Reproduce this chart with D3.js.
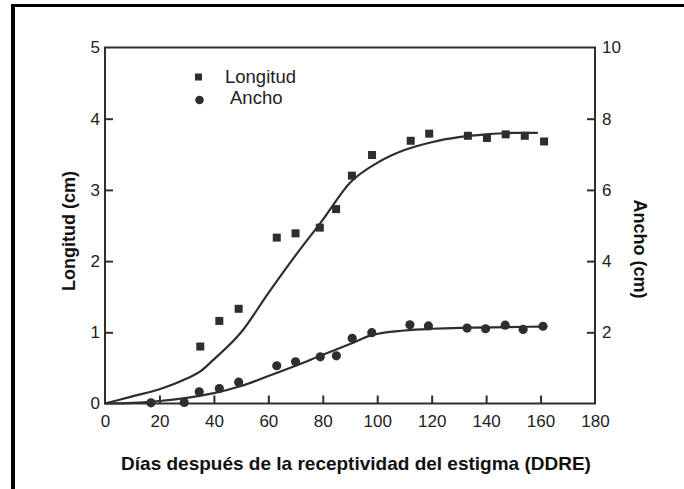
<!DOCTYPE html>
<html><head><meta charset="utf-8">
<script src="https://cdn.jsdelivr.net/npm/d3@7"></script>
<style>body{margin:0;background:#fff}svg{display:block}</style>
</head><body>
<script>
// Data
const longDays = [35.0, 42.0, 49.1, 63.1, 70.0, 78.9, 84.9, 90.7, 98.1, 112.3, 119.1, 133.3, 140.3, 147.2, 154.2, 161.3];
const longVals = [0.80, 1.16, 1.33, 2.33, 2.39, 2.47, 2.73, 3.20, 3.49, 3.69, 3.79, 3.76, 3.73, 3.78, 3.76, 3.68];
const anchoDays = [16.9, 29.1, 34.6, 42.0, 49.1, 63.1, 70.0, 79.1, 85.0, 90.8, 98.0, 112.0, 118.8, 133.0, 139.8, 147.0, 153.6, 160.9];
const anchoVals = [0.02, 0.03, 0.33, 0.42, 0.60, 1.06, 1.17, 1.31, 1.34, 1.83, 1.99, 2.21, 2.18, 2.12, 2.10, 2.20, 2.08, 2.17];
// fitted curves
const longFitDays = [0, 10, 20, 30, 35, 40, 50, 60, 70, 80, 90, 100, 110, 120, 130, 140, 150, 159];
const longFitVals = [0, 0.1, 0.2, 0.35, 0.45, 0.62, 1.0, 1.55, 2.08, 2.58, 3.1, 3.38, 3.56, 3.67, 3.74, 3.78, 3.80, 3.80];
const anchoFitDays = [0, 10, 20, 30, 40, 50, 60, 70, 80, 90, 98, 110, 120, 135, 161];
const anchoFitVals = [0, 0.02, 0.07, 0.16, 0.29, 0.49, 0.77, 1.06, 1.37, 1.67, 1.92, 2.05, 2.10, 2.13, 2.16];
const xTicks = [0, 20, 40, 60, 80, 100, 120, 140, 160, 180];
const yLeftTicks = [0, 1, 2, 3, 4, 5];
const yRightTicks = [2, 4, 6, 8, 10];

const W = 684, H = 489;
const svg = d3.select("body").append("svg").attr("width", W).attr("height", H);
const pL = 105, pR = 595, pT = 47.5, pB = 403.5;
const x = d3.scaleLinear().domain([0, 180]).range([pL, pR]);
const yL = d3.scaleLinear().domain([0, 5]).range([pB, pT]);
const yR = d3.scaleLinear().domain([0, 10]).range([pB, pT]);
const ink = "#2e2e2e";
const font = "'Liberation Sans', Arial, sans-serif";

// outer frame (left and top thick black lines)
svg.append("line").attr("x1", 13).attr("x2", 13).attr("y1", 4).attr("y2", H).attr("stroke", "#000").attr("stroke-width", 4);
svg.append("line").attr("x1", 11).attr("x2", W).attr("y1", 5.5).attr("y2", 5.5).attr("stroke", "#000").attr("stroke-width", 3);

// plot box
svg.append("rect").attr("x", pL).attr("y", pT).attr("width", pR - pL).attr("height", pB - pT)
  .attr("fill", "none").attr("stroke", ink).attr("stroke-width", 2);

// axes with inward ticks
const gx = svg.append("g").attr("transform", `translate(0,${pB})`)
  .call(d3.axisBottom(x).tickValues(xTicks).tickSize(-8).tickPadding(11).tickFormat(d3.format("d")));
const gl = svg.append("g").attr("transform", `translate(${pL},0)`)
  .call(d3.axisLeft(yL).tickValues(yLeftTicks).tickSize(-8).tickPadding(5).tickFormat(d3.format("d")));
const gr = svg.append("g").attr("transform", `translate(${pR},0)`)
  .call(d3.axisRight(yR).tickValues(yRightTicks).tickSize(-8).tickPadding(7).tickFormat(d3.format("d")));
[gx, gl, gr].forEach(g => {
  g.select(".domain").remove();
  g.selectAll(".tick line").attr("stroke", ink).attr("stroke-width", 2);
  g.selectAll(".tick text").attr("fill", "#222").style("font-family", font).style("font-size", "17px");
});
gx.selectAll(".tick").filter(d => d === 0 || d === 180).select("line").remove();
gl.selectAll(".tick").filter(d => d === 0 || d === 5).select("line").remove();
gr.selectAll(".tick").filter(d => d === 10).select("line").remove();

// fitted curves
const lineL = d3.line().x((d, i) => x(longFitDays[i])).y((d, i) => yL(longFitVals[i])).curve(d3.curveMonotoneX);
const lineR = d3.line().x((d, i) => x(anchoFitDays[i])).y((d, i) => yR(anchoFitVals[i])).curve(d3.curveMonotoneX);
svg.append("path").attr("d", lineL(longFitDays)).attr("fill", "none").attr("stroke", ink).attr("stroke-width", 2.2);
svg.append("path").attr("d", lineR(anchoFitDays)).attr("fill", "none").attr("stroke", ink).attr("stroke-width", 2.2);

// points
const sq = 8;
svg.append("g").selectAll("rect").data(longDays).join("rect")
  .attr("x", (d) => x(d) - sq / 2).attr("y", (d, i) => yL(longVals[i]) - sq / 2)
  .attr("width", sq).attr("height", sq).attr("fill", ink);
svg.append("g").selectAll("circle").data(anchoDays).join("circle")
  .attr("cx", d => x(d)).attr("cy", (d, i) => yR(anchoVals[i])).attr("r", 4.6).attr("fill", ink);

// legend
svg.append("rect").attr("x", 195).attr("y", 73.5).attr("width", 7).attr("height", 7).attr("fill", ink);
svg.append("circle").attr("cx", 199.5).attr("cy", 100).attr("r", 4.3).attr("fill", ink);
svg.append("text").attr("x", 225).attr("y", 82.5).text("Longitud").attr("fill", "#222")
  .style("font-family", font).style("font-size", "18.5px");
svg.append("text").attr("x", 230).attr("y", 103.5).text("Ancho").attr("fill", "#222")
  .style("font-family", font).style("font-size", "18.5px");

// axis titles
svg.append("text").attr("transform", `translate(75,231) rotate(-90)`)
  .attr("text-anchor", "middle").text("Longitud (cm)").attr("fill", "#111")
  .style("font-family", font).style("font-size", "18px").style("font-weight", "bold");
svg.append("text").attr("transform", `translate(634,249) rotate(90)`)
  .attr("text-anchor", "middle").text("Ancho (cm)").attr("fill", "#111")
  .style("font-family", font).style("font-size", "18px").style("font-weight", "bold");
svg.append("text").attr("x", 356).attr("y", 470).attr("text-anchor", "middle")
  .text("Días después de la receptividad del estigma (DDRE)").attr("fill", "#111")
  .style("font-family", font).style("font-size", "19px").style("font-weight", "bold");
</script>
</body></html>
